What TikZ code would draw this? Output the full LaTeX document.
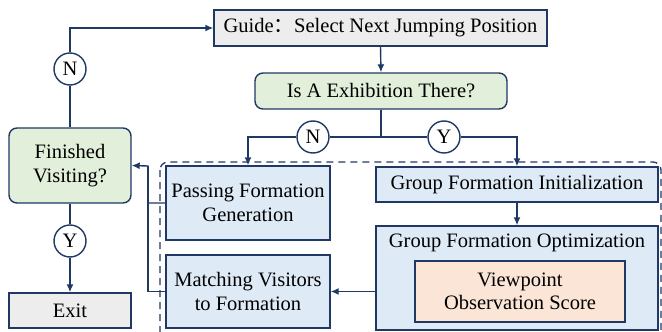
\documentclass[tikz,border=0pt]{standalone}
\usepackage{fontspec}
\setmainfont{Liberation Serif}
\newfontfamily\cjk{Noto Sans CJK SC}
\usetikzlibrary{arrows.meta,positioning}

\definecolor{bleunuit}{HTML}{203864}
\definecolor{gris}{HTML}{EDEDED}
\definecolor{vert}{HTML}{E2EFDA}
\definecolor{bleu}{HTML}{DEEBF7}
\definecolor{peche}{HTML}{FBE5D6}

\begin{document}
\begin{tikzpicture}[x=1pt,y=-1pt,
  font=\fontsize{20.5}{23.5}\selectfont,
  boite/.style={draw=bleunuit, line width=1.4pt, inner sep=0pt, align=center},
  question/.style={boite, fill=vert, rounded corners=8pt},
  etape/.style={boite, fill=bleu},
  rond/.style={draw=bleunuit, line width=1.4pt, fill=white, circle, minimum size=32pt, inner sep=0pt},
  lien/.style={draw=bleunuit, line width=1.4pt},
  fleche/.style={lien, -{Latex[length=8pt,width=7pt]}}]

\useasboundingbox (0,0) rectangle (662,332);

% Bloc pointille
\draw[bleunuit, line width=1.3pt, dash pattern=on 7pt off 5pt, rounded corners=8pt] (160,162) rectangle (661,345);

% Noeuds
\node[boite, fill=gris, minimum width=333pt, minimum height=36pt] (guide) at (380.5,28) {Guide{\cjk ：}Select Next Jumping Position};
\node[question, minimum width=252pt, minimum height=36pt] (expo) at (381,91) {Is A Exhibition There?};
\node[question, minimum width=122pt, minimum height=75pt] (fini) at (70,165.5) {Finished\\Visiting?};
\node[boite, fill=gris, minimum width=122pt, minimum height=35pt] (sortie) at (70,310.5) {Exit};

\node[etape, minimum width=164pt, minimum height=74pt] (passing) at (248,203) {Passing Formation\\Generation};
\node[etape, minimum width=164pt, minimum height=73pt] (matching) at (248,291.5) {Matching Visitors\\to Formation};
\node[etape, minimum width=282pt, minimum height=35pt] (init) at (517,184.5) {Group Formation Initialization};
\node[etape, minimum width=282pt, minimum height=104pt] (optim) at (517,278) {};
\node[below=5pt of optim.north, align=center] (titreopt) {Group Formation Optimization};
\node[boite, fill=peche, minimum width=210pt, minimum height=61pt] (score) at (520,291.5) {Viewpoint\\Observation Score};

% Ronds N / Y
\node[rond] (n1) at (70,69) {N};
\node[rond] (y1) at (70,241) {Y};
\node[rond] (n2) at (313,137) {N};
\node[rond] (y2) at (444,137) {Y};

\coordinate (fourche) at (381,137);
\coordinate (coude) at (148,166);

% Liaisons
\draw[lien] (fini.north) -- (n1.south);
\draw[fleche] (n1.north) |- (guide.west);
\draw[fleche] (guide.south) -- (expo.north);
\draw[lien] (expo.south) -- (fourche);
\draw[lien] (fourche) -- (n2.east);
\draw[fleche] (n2.west) -| (passing.north);
\draw[lien] (fourche) -- (y2.west);
\draw[fleche] (y2.east) -| (init.north);
\draw[fleche] (init.south) -- (optim.north);
\draw[fleche] (optim.west |- matching) -- (matching.east);
\draw[fleche] (passing.west) -| (coude) -- (fini.east);
\draw[lien] (matching.west) -| (coude);
\draw[lien] (fini.south) -- (y1.north);
\draw[fleche] (y1.south) -- (sortie.north);

\end{tikzpicture}
\end{document}
